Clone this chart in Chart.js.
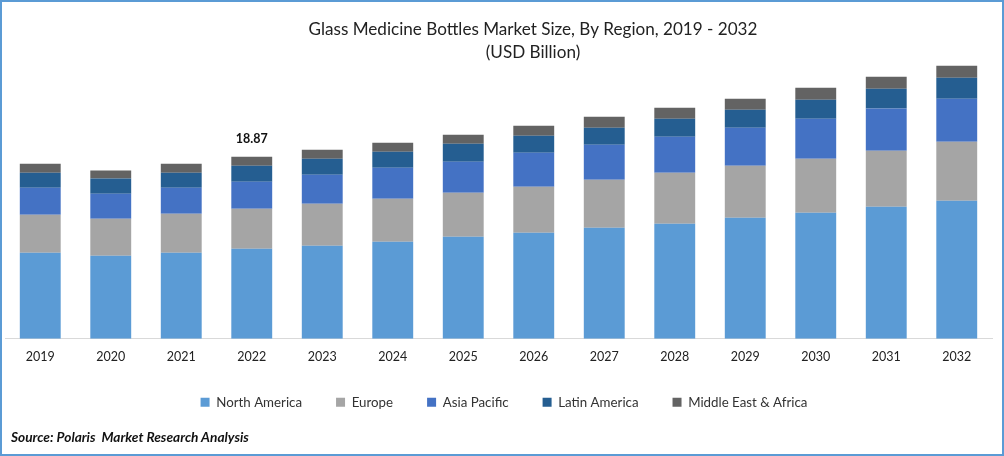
<!DOCTYPE html>
<html>
<head>
<meta charset="utf-8">
<style>
html, body { margin: 0; padding: 0; background: #fff; }
#frame { position: relative; width: 1000px; height: 452px; border: 2px solid #5b9bd5; overflow: hidden; }
#source { position: absolute; left: 9px; top: 426px; font: italic bold 13.7px Lato, sans-serif; color: #111; white-space: pre; }
</style>
<script src="https://cdn.jsdelivr.net/npm/chart.js@4"></script>
</head>
<body>
<div id="frame">
    <canvas id="grafico" width="1000" height="452"></canvas>
    <div id="source">Source: Polaris  Market Research Analysis</div>
</div>
<script>
const years = ["2019","2020","2021","2022","2023","2024","2025","2026","2027","2028","2029","2030","2031","2032"];
const northAmerica = [8.92,8.61,8.92,9.33,9.64,10.06,10.58,10.99,11.51,11.93,12.55,13.07,13.69,14.31];
const europe = [3.94,3.84,4.04,4.15,4.36,4.46,4.56,4.77,4.98,5.29,5.39,5.60,5.81,6.12];
const asiaPacific = [2.80,2.59,2.70,2.80,3.01,3.21,3.21,3.53,3.63,3.73,3.94,4.15,4.36,4.46];
const latinAmerica = [1.56,1.56,1.56,1.66,1.66,1.66,1.87,1.76,1.76,1.87,1.87,1.97,2.07,2.18];
const middleEast = [0.93,0.83,0.93,0.93,0.93,0.93,0.93,1.04,1.14,1.14,1.14,1.24,1.24,1.24];
const labelYear = "2022";
const labelText = "18.87";

const fuente = "Lato, sans-serif";

// etiqueta encima de la barra de 2022
const etiquetaTotal = {
    id: "etiquetaTotal",
    afterDatasetsDraw(chart) {
        const i = years.indexOf(labelYear);
        const total = northAmerica[i] + europe[i] + asiaPacific[i] + latinAmerica[i] + middleEast[i];
        const ctx = chart.ctx;
        ctx.save();
        ctx.font = "bold 12.5px " + fuente;
        ctx.fillStyle = "#111";
        ctx.textAlign = "center";
        ctx.textBaseline = "bottom";
        ctx.fillText(labelText, chart.scales.x.getPixelForValue(i), chart.scales.y.getPixelForValue(total) - 12);
        ctx.restore();
    }
};

// el titulo y la leyenda no estan centrados en el original
const moverBloques = {
    id: "moverBloques",
    afterLayout(chart) {
        chart.titleBlock.left += 69;
        chart.legend.left += 11;
        chart.legend.top -= 14;
    }
};

function serie(nombre, valores, color) {
    return { label: nombre, data: valores, backgroundColor: color, barPercentage: 0.58, categoryPercentage: 1 };
}

new Chart(document.getElementById("grafico"), {
    type: "bar",
    data: {
        labels: years,
        datasets: [
            serie("North America", northAmerica, "#5b9bd5"),
            serie("Europe", europe, "#a5a5a5"),
            serie("Asia Pacific", asiaPacific, "#4472c4"),
            serie("Latin America", latinAmerica, "#255e91"),
            serie("Middle East & Africa", middleEast, "#636363")
        ]
    },
    options: {
        responsive: false,
        animation: false,
        layout: { padding: { left: 3, right: 10, top: 16, bottom: 21 } },
        plugins: {
            title: {
                display: true,
                text: ["Glass Medicine Bottles Market Size, By Region, 2019 - 2032", "(USD Billion)"],
                color: "#222",
                font: { family: fuente, size: 17.1, weight: "normal", lineHeight: 1.35 },
                padding: { top: 0, bottom: -6 }
            },
            legend: {
                position: "bottom",
                labels: {
                    boxWidth: 9,
                    boxHeight: 9,
                    padding: 34,
                    color: "#333",
                    font: { family: fuente, size: 13.3 }
                }
            },
            tooltip: { enabled: false }
        },
        scales: {
            x: {
                stacked: true,
                grid: { display: false, drawTicks: false },
                border: { color: "#d9d9d9", width: 1 },
                ticks: { color: "#222", font: { family: fuente, size: 12.5 }, padding: 11, maxRotation: 0 }
            },
            y: {
                stacked: true,
                display: false,
                min: 0,
                max: 29.09
            }
        }
    },
    plugins: [etiquetaTotal, moverBloques]
});
</script>
</body>
</html>
